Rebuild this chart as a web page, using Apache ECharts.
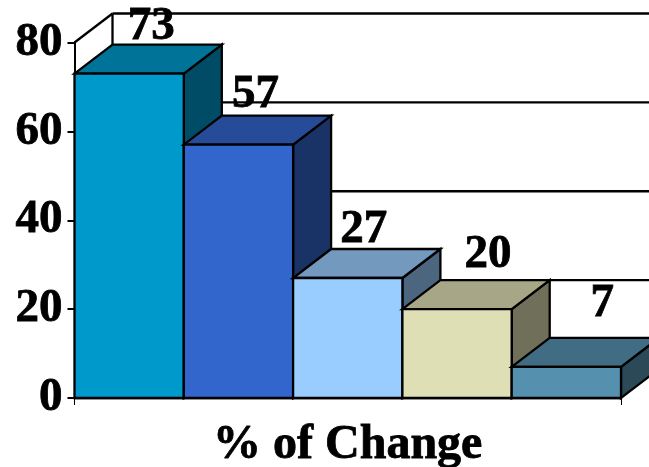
<!DOCTYPE html>
<html>
<head>
<meta charset="utf-8">
<style>html,body{margin:0;padding:0;background:#fff}#c{width:649px;height:467px}</style>
<script src="https://cdn.jsdelivr.net/npm/echarts@6/dist/echarts.min.js"></script>
</head>
<body>
<div id="c"></div>
<script>
const categories = ['A', 'B', 'C', 'D', 'E'];
const values = [73, 57, 27, 20, 7];
const yTicks = [0, 20, 40, 60, 80];
const axisTitle = '% of Change';
const frontColors = ['#0099CC', '#3366CC', '#99CCFF', '#DFDFB5', '#5591AE'];
const topColors = ['#007399', '#264C99', '#7399BF', '#A7A788', '#406D83'];
const sideColors = ['#004C66', '#1A3366', '#4D6680', '#70705A', '#2B4957'];

const DX = 38, DY = -29;
const FONT = '"Liberation Serif", "Times New Roman", serif';
const labelShift = [[22, 6], [17, 3], [16, 4], [31, -2], [36, -11]];

const stroke = { stroke: '#000', lineWidth: 2.3 };
function poly(points, fill) {
  return { type: 'polygon', shape: { points }, style: { fill, stroke: '#000', lineWidth: 2.3, lineJoin: 'miter' } };
}
function seg(x1, y1, x2, y2) {
  return { type: 'line', shape: { x1, y1, x2, y2 }, style: stroke };
}

const chart = echarts.init(document.getElementById('c'), null, { renderer: 'canvas' });
chart.setOption({
  animation: false,
  backgroundColor: '#fff',
  grid: { left: 74.5, top: 42.5, width: 546.5, height: 355.5, containLabel: false, outerBoundsMode: 'none' },
  xAxis: {
    type: 'category',
    data: categories,
    name: axisTitle,
    nameLocation: 'middle',
    nameGap: 24,
    nameTextStyle: { fontFamily: FONT, fontWeight: 'bold', fontSize: 48, color: '#000', textBorderColor: '#000', textBorderWidth: 0.8 },
    axisLine: { show: true, lineStyle: { color: '#000', width: 2.3 } },
    axisTick: { show: true, length: 7, lineStyle: { color: '#000', width: 1 }, interval: (i) => i === 0 || i === categories.length },
    axisLabel: { show: false },
    splitLine: { show: false }
  },
  yAxis: {
    type: 'value',
    min: 0,
    max: 80,
    interval: 20,
    axisLine: { show: true, lineStyle: { color: '#000', width: 2 } },
    axisTick: { show: true, length: 7, lineStyle: { color: '#000', width: 2 } },
    axisLabel: { margin: 12, padding: [8, 0, 0, 0], fontFamily: FONT, fontWeight: 'bold', fontSize: 47, color: '#000', textBorderColor: '#000', textBorderWidth: 0.8 },
    splitLine: { show: false }
  },
  series: [
    {
      type: 'custom',
      name: 'wall',
      coordinateSystem: 'cartesian2d',
      clip: false,
      z: 1,
      silent: true,
      data: yTicks.map(v => [0, v]),
      encode: { x: 0, y: 1 },
      renderItem(params, api) {
        const v = api.value(1);
        const band = api.size([1, 0])[0];
        const p = api.coord([0, v]);
        const xL = p[0] - band / 2;
        const xR = xL + band * categories.length;
        const children = [seg(xL + DX, p[1] + DY, xR + DX, p[1] + DY)];
        if (v === yTicks[yTicks.length - 1]) {
          const base = api.coord([0, yTicks[0]]);
          children.push(seg(xL, p[1], xL + DX, p[1] + DY));
          children.push(seg(xL + DX, p[1] + DY, xL + DX, base[1] + DY));
        }
        return { type: 'group', children };
      }
    },
    {
      type: 'custom',
      name: '% of Change',
      coordinateSystem: 'cartesian2d',
      clip: false,
      z: 2,
      data: values.map((v, i) => [i, v]),
      encode: { x: 0, y: 1 },
      renderItem(params, api) {
        const i = api.value(0);
        const v = api.value(1);
        const band = api.size([1, 0])[0];
        const c = api.coord([i, v]);
        const b = api.coord([i, 0]);
        const l = c[0] - band / 2, r = c[0] + band / 2, t = c[1], bt = b[1];
        return {
          type: 'group',
          children: [
            poly([[r, t], [r + DX, t + DY], [r + DX, bt + DY], [r, bt]], sideColors[i]),
            poly([[l, t], [l + DX, t + DY], [r + DX, t + DY], [r, t]], topColors[i]),
            poly([[l, t], [r, t], [r, bt], [l, bt]], frontColors[i])
          ]
        };
      }
    },
    {
      type: 'custom',
      name: 'labels',
      coordinateSystem: 'cartesian2d',
      clip: false,
      z: 3,
      silent: true,
      data: values.map((v, i) => [i, v]),
      encode: { x: 0, y: 1 },
      renderItem(params, api) {
        const i = api.value(0);
        const v = api.value(1);
        const c = api.coord([i, v]);
        return {
          type: 'text',
          x: c[0] + labelShift[i][0],
          y: c[1] + DY + labelShift[i][1],
          style: {
            text: String(v),
            fontFamily: FONT, fontWeight: 'bold', fontSize: 47, fill: '#000',
            stroke: '#000', lineWidth: 0.8,
            textAlign: 'center', textVerticalAlign: 'bottom'
          }
        };
      }
    }
  ]
});
</script>
</body>
</html>
